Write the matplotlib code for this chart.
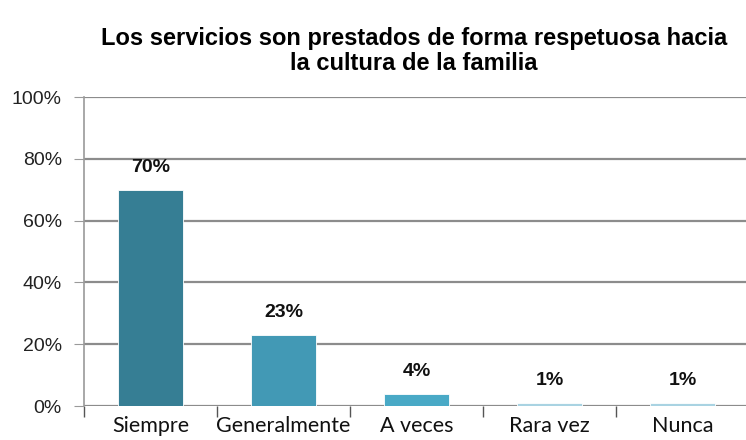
import matplotlib
matplotlib.use("Agg")
import matplotlib.pyplot as plt
from matplotlib.ticker import FuncFormatter

categories = ["Siempre", "Generalmente", "A veces", "Rara vez", "Nunca"]
values = [70, 23, 4, 1, 1]
labels = ["70%", "23%", "4%", "1%", "1%"]
colors = ["#367E94", "#4299B5", "#49A9C6", "#A9D3E2", "#A9D3E2"]
yticks = [0, 20, 40, 60, 80, 100]

fig = plt.figure(figsize=(7.46, 4.40), dpi=100)
ax = fig.add_axes([84/746, 1-406/440, (749-84)/746, 309/440])

x = list(range(len(categories)))
ax.bar(x, values, width=0.49, color=colors, zorder=3, edgecolor="white", linewidth=0.6)
for xi, v, lab in zip(x, values, labels):
    ax.text(xi, v + 4.5, lab, ha="center", va="bottom", fontsize=14,
            fontweight="bold", family="Liberation Sans", color="#111111")

ax.set_ylim(0, 100)
ax.set_xlim(-0.5, len(categories) - 0.5)
ax.set_yticks(yticks)
ax.yaxis.set_major_formatter(FuncFormatter(lambda v, p: f"{int(v)}%"))
ax.yaxis.grid(True, color="#8C8C8C", linewidth=1.6, zorder=0)
ax.set_axisbelow(True)
for s in ["top", "right", "bottom"]:
    ax.spines[s].set_visible(False)
ax.spines["left"].set_color("#9A9A9A")
ax.spines["left"].set_linewidth(1.2)
ax.tick_params(axis="y", length=7, color="#9A9A9A", labelsize=14, pad=9)
for t in ax.get_yticklabels():
    t.set_family("Liberation Sans")
    t.set_color("#222222")

ax.set_xticks(x)
ax.set_xticklabels(categories, fontsize=15.5, family="Lato", color="#111111")
ax.tick_params(axis="x", length=0, pad=7)
ax.set_xticks([i - 0.5 for i in range(len(categories) + 1)], minor=True)
ax.tick_params(axis="x", which="minor", length=8, color="#555555", width=1)

fig.text(0.555, 1 - 38/440, "Los servicios son prestados de forma respetuosa hacia",
         ha="center", va="center", fontsize=17, fontweight="bold", family="Liberation Sans")
fig.text(0.555, 1 - 63/440, "la cultura de la familia",
         ha="center", va="center", fontsize=17, fontweight="bold", family="Liberation Sans")

fig.savefig("out.png", dpi=100)
